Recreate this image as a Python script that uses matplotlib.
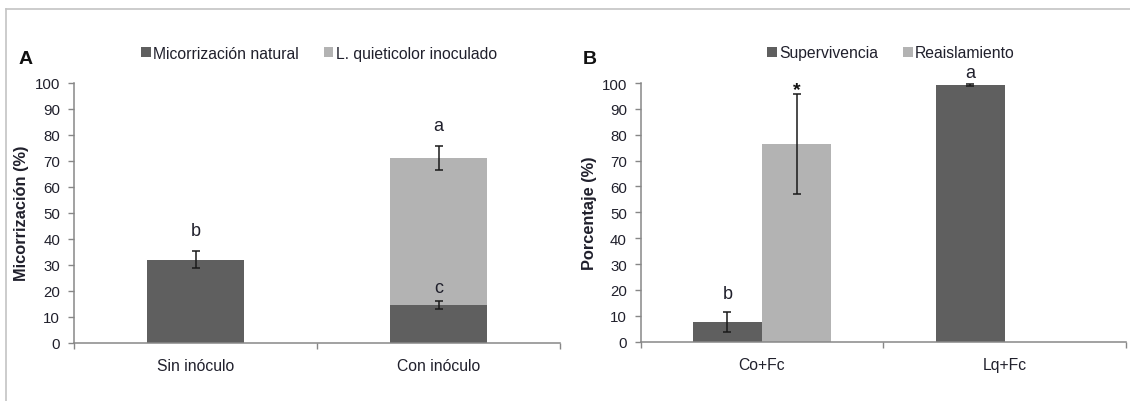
import numpy as np
import matplotlib
matplotlib.use("Agg")
import matplotlib.pyplot as plt
from matplotlib.lines import Line2D

plt.rcParams['font.family'] = ['Liberation Sans', 'DejaVu Sans']

# ---- Panel A: micorrización ----
cats_a = ["Sin inóculo", "Con inóculo"]
natural_a = [32.0, 14.5]
natural_err_a = [3.2, 1.7]
inoculado_a = [0.0, 56.5]
total_err_a = [0.0, 4.6]
letters_nat_a = ["b", "c"]
letter_tot_a = ["", "a"]

# ---- Panel B: supervivencia / reaislamiento ----
cats_b = ["Co+Fc", "Lq+Fc"]
superv_b = [7.7, 99.2]
superv_err_b = [3.8, 0.5]
reais_b = [76.3, 0.0]
reais_err_b = [19.3, 0.0]
letters_sup_b = ["b", "a"]
letters_rea_b = ["*", ""]

DARK = "#5f5f5f"
LIGHT = "#b3b3b3"
AXC = "#878787"
TXT = "#20202c"
FS = 11.3
FS_TICK = 10.8

fig = plt.figure(figsize=(11.30, 4.02), dpi=100)

# outer frame lines (top and left)
fig.add_artist(Line2D([0.0053, 1.0], [0.975, 0.975], transform=fig.transFigure,
                      color="#c4c4c4", lw=1.2))
fig.add_artist(Line2D([0.0053, 0.0053], [0.0, 0.975], transform=fig.transFigure,
                      color="#c4c4c4", lw=1.2))

axA = fig.add_axes([74 / 1130, 58.3 / 402, 486 / 1130, 259.7 / 402])
axB = fig.add_axes([640.7 / 1130, 59.3 / 402, 485.3 / 1130, 258.7 / 402])


def style_axes(ax, cats):
    ax.set_ylim(0, 100)
    ax.set_xlim(-0.5, 1.5)
    for s in ("top", "right"):
        ax.spines[s].set_visible(False)
    for s in ("left", "bottom"):
        ax.spines[s].set_color(AXC)
        ax.spines[s].set_linewidth(1.1)
    ax.set_yticks(np.arange(0, 101, 10))
    ax.tick_params(axis="y", direction="out", length=4, width=1.0, color=AXC,
                   labelsize=FS_TICK, labelcolor=TXT, pad=6)
    ax.set_xticks([-0.5, 0.5, 1.5])
    ax.set_xticklabels([])
    ax.tick_params(axis="x", which="major", direction="out", length=4,
                   width=1.0, color=AXC)
    ax.set_xticks([0, 1], minor=True)
    ax.set_xticklabels(cats, minor=True)
    ax.tick_params(axis="x", which="minor", length=0, labelsize=FS,
                   labelcolor=TXT, pad=11)


# Panel A: stacked bars
xa = np.arange(len(cats_a))
wa = 0.40
axA.bar(xa, natural_a, wa, color=DARK, label="Micorrización natural", zorder=2)
axA.bar(xa, inoculado_a, wa, bottom=natural_a, color=LIGHT,
        label="L. quieticolor inoculado", zorder=2)
axA.errorbar(xa, natural_a, yerr=natural_err_a, fmt="none", ecolor="#1a1a1a",
             elinewidth=1.1, capsize=3.2, capthick=1.1, zorder=3)
tot_a = np.array(natural_a) + np.array(inoculado_a)
mask = np.array(inoculado_a) > 0
axA.errorbar(xa[mask], tot_a[mask], yerr=np.array(total_err_a)[mask], fmt="none",
             ecolor="#1a1a1a", elinewidth=1.1, capsize=3.2, capthick=1.1, zorder=3)
style_axes(axA, cats_a)

nat_gap = [4.7, 1.8]
for x, v, e, lt, g in zip(xa, natural_a, natural_err_a, letters_nat_a, nat_gap):
    axA.text(x, v + e + g, lt, ha="center", va="bottom", fontsize=13, color=TXT)
for x, v, e, lt in zip(xa, tot_a, total_err_a, letter_tot_a):
    if lt:
        axA.text(x, v + e + 4.7, lt, ha="center", va="bottom", fontsize=13,
                 color=TXT)

axA.legend(loc="center", bbox_to_anchor=(0.504, 1.115), ncol=2, frameon=False,
           fontsize=FS, handlelength=0.6, handleheight=0.6, handletextpad=0.15,
           columnspacing=1.6, labelcolor=TXT, borderaxespad=0)
axA.text(-0.107, 0.503, "Micorrización (%)", transform=axA.transAxes,
         rotation=90, ha="center", va="center", fontsize=11.8, fontweight="bold",
         color=TXT)
axA.text(-0.099, 1.096, "A", transform=axA.transAxes, ha="center",
         va="center", fontsize=14, fontweight="bold", color="#111111")

# Panel B: grouped bars
xb = np.arange(len(cats_b))
wb = 0.285
axB.bar(xb - wb / 2, superv_b, wb, color=DARK, label="Supervivencia", zorder=2)
axB.bar(xb + wb / 2, reais_b, wb, color=LIGHT, label="Reaislamiento", zorder=2)
axB.errorbar(xb - wb / 2, superv_b, yerr=superv_err_b, fmt="none",
             ecolor="#1a1a1a", elinewidth=1.1, capsize=3.2, capthick=1.1, zorder=3)
rmask = np.array(reais_b) > 0
axB.errorbar((xb + wb / 2)[rmask], np.array(reais_b)[rmask],
             yerr=np.array(reais_err_b)[rmask], fmt="none", ecolor="#1a1a1a",
             elinewidth=1.1, capsize=3.2, capthick=1.1, zorder=3)
style_axes(axB, cats_b)

sup_gap = [3.7, 1.0]
for x, v, e, lt, g in zip(xb - wb / 2, superv_b, superv_err_b, letters_sup_b, sup_gap):
    axB.text(x, v + e + g, lt, ha="center", va="bottom", fontsize=13,
             color=TXT, clip_on=False)
for x, v, e, lt in zip(xb + wb / 2, reais_b, reais_err_b, letters_rea_b):
    if lt:
        axB.text(x, v + e - 1.5, lt, ha="center", va="bottom", fontsize=14,
                 fontweight="bold", color="#111111", clip_on=False)

axB.legend(loc="center", bbox_to_anchor=(0.516, 1.117), ncol=2, frameon=False,
           fontsize=FS, handlelength=0.6, handleheight=0.6, handletextpad=0.15,
           columnspacing=1.6, labelcolor=TXT, borderaxespad=0)
axB.text(-0.1065, 0.5, "Porcentaje (%)", transform=axB.transAxes,
         rotation=90, ha="center", va="center", fontsize=11.8, fontweight="bold",
         color=TXT)
axB.text(-0.1045, 1.095, "B", transform=axB.transAxes, ha="center",
         va="center", fontsize=14, fontweight="bold", color="#111111")

fig.savefig("out.png", dpi=100)
